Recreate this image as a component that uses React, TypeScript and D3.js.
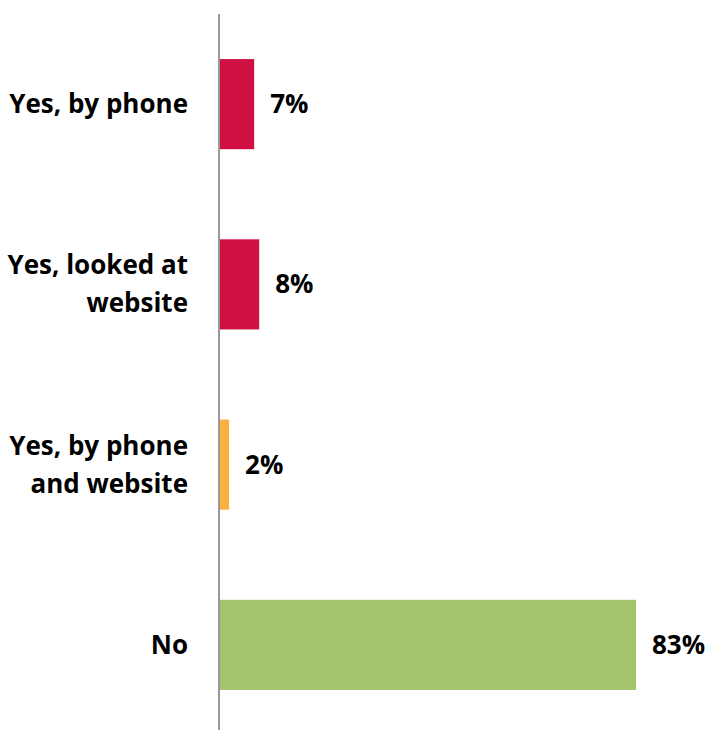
import React from "react";
import * as d3 from "d3";

const categories: string[][] = [
  ["Yes, by phone"],
  ["Yes, looked at", "website"],
  ["Yes, by phone", "and website"],
  ["No"],
];
const values: number[] = [7, 8, 2, 83];
const colors: string[] = ["#D01042", "#D01042", "#FBB040", "#A2C56B"];
const valueLabels: string[] = ["7%", "8%", "2%", "83%"];

export default function App() {
  const width = 712;
  const height = 730;
  const axisX = 219;
  const ids = categories.map((_, i) => String(i));
  const y = d3
    .scaleBand<string>()
    .domain(ids)
    .range([14, 735])
    .paddingInner(0.5)
    .paddingOuter(0.25);
  const x = d3.scaleLinear().domain([0, 83]).range([axisX, 636]);
  const font = "'Open Sans', sans-serif";
  const fs = 26;
  return (
    <svg
      width={width}
      height={height}
      style={{ position: "absolute", left: 0, top: 0 }}
      fontFamily={font}
    >
      {ids.map((id, i) => {
        const y0 = y(id)!;
        const cy = y0 + y.bandwidth() / 2;
        const lines = categories[i];
        const lh = 38;
        return (
          <g key={id}>
            <rect
              x={x(0)}
              y={y0}
              width={x(values[i]) - x(0)}
              height={y.bandwidth()}
              fill={colors[i]}
            />
            <text
              x={x(values[i]) + 16}
              y={cy}
              dy="0.35em"
              fontSize={fs}
              fontWeight={700}
              fill="#000"
            >
              {valueLabels[i]}
            </text>
            {lines.map((ln, j) => (
              <text
                key={j}
                x={188}
                y={cy + (j - (lines.length - 1) / 2) * lh}
                dy="0.35em"
                textAnchor="end"
                fontSize={fs}
                fontWeight={700}
                fill="#000"
              >
                {ln}
              </text>
            ))}
          </g>
        );
      })}
      <line x1={axisX} x2={axisX} y1={14} y2={730} stroke="#999" strokeWidth={2} />
    </svg>
  );
}
